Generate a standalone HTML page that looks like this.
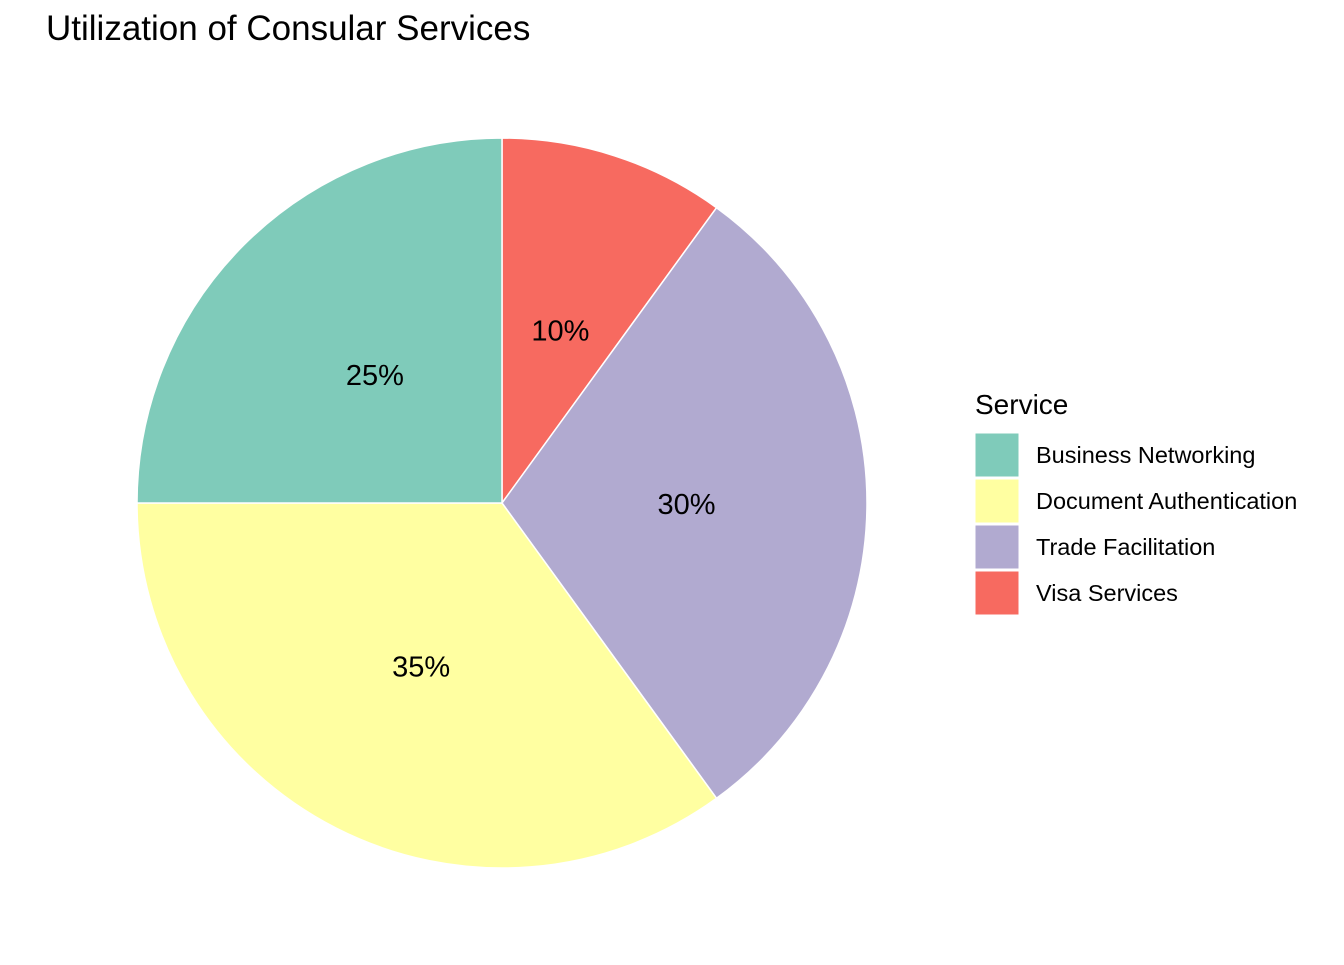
<!DOCTYPE html>
<html><head><meta charset="utf-8"><style>
body{margin:0;background:#fff;font-family:"Liberation Sans",Arial,sans-serif;}
</style></head><body>
<svg width="1344" height="960" xmlns="http://www.w3.org/2000/svg" id="chart">
<text x="46" y="40" font-size="35" fill="#000">Utilization of Consular Services</text>
<g id="slices"></g>
<g id="labels"></g>
<g id="legend">
<text x="975" y="414" font-size="28">Service</text>
</g>
</svg>
<script>
const categories=["Visa Services","Trade Facilitation","Document Authentication","Business Networking"];
const values=[10,30,35,25];
const legendOrder=["Business Networking","Document Authentication","Trade Facilitation","Visa Services"];
const colors={"Business Networking":"#7FCBBA","Document Authentication":"#FFFFA1","Trade Facilitation":"#B1AAD0","Visa Services":"#F76A60"};
const cx=502,cy=503,R=365,ns="http://www.w3.org/2000/svg";
const total=values.reduce((a,b)=>a+b,0);
function pt(a,r){return [cx+r*Math.sin(a),cy-r*Math.cos(a)];}
let acc=0;
const sg=document.getElementById('slices'),lg=document.getElementById('labels');
values.forEach((v,i)=>{
 const a0=acc/total*2*Math.PI;acc+=v;const a1=acc/total*2*Math.PI;
 const p0=pt(a0,R),p1=pt(a1,R);
 const large=(a1-a0)>Math.PI?1:0;
 const p=document.createElementNS(ns,'path');
 p.setAttribute('d',`M${cx},${cy}L${p0[0]},${p0[1]}A${R},${R} 0 ${large} 1 ${p1[0]},${p1[1]}Z`);
 p.setAttribute('fill',colors[categories[i]]);
 p.setAttribute('stroke','#fff');p.setAttribute('stroke-width','1.5');
 
 
 sg.appendChild(p);
 const m=pt((a0+a1)/2,R/2);
 const t=document.createElementNS(ns,'text');
 t.setAttribute('x',m[0]+2);t.setAttribute('y',m[1]+11);t.setAttribute('text-anchor','middle');t.setAttribute('font-size','29');
 t.textContent=Math.round(v/total*100)+'%';
 
 
 lg.appendChild(t);
});
const leg=document.getElementById('legend');
legendOrder.forEach((c,i)=>{
 const y=433+i*46;
 const r=document.createElementNS(ns,'rect');
 r.setAttribute('x',975);r.setAttribute('y',y);r.setAttribute('width',44);r.setAttribute('height',44);
 r.setAttribute('fill',colors[c]);r.setAttribute('stroke','#fff');
 
 
 leg.appendChild(r);
 const t=document.createElementNS(ns,'text');
 t.setAttribute('x',1036);t.setAttribute('y',y+30);t.setAttribute('font-size','23.5');
 t.textContent=c;
 
 
 leg.appendChild(t);
});
</script>
</body></html>
